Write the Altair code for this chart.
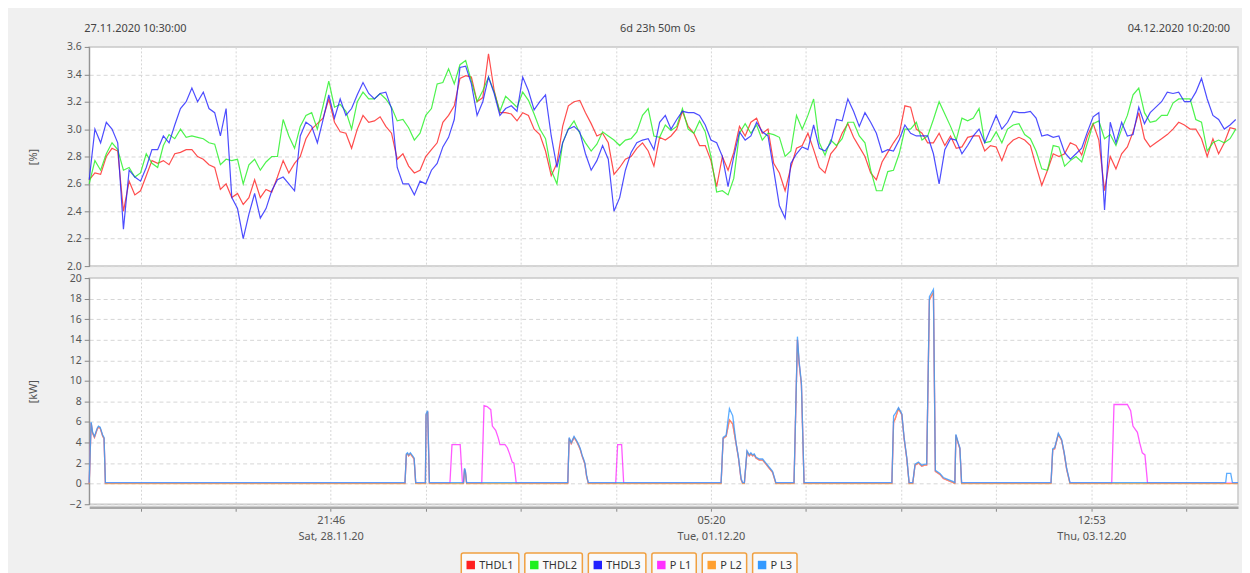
import altair as alt
import pandas as pd
from datetime import datetime, timedelta, timezone

# ---------------- time frame ----------------
START = datetime(2020, 11, 27, 10, 30, tzinfo=timezone.utc)
END = datetime(2020, 12, 4, 10, 20, tzinfo=timezone.utc)
FIRST_TICK = datetime(2020, 11, 27, 18, 0, tzinfo=timezone.utc)
TICK_STEP_S = 50000
N_TICKS = 12

series_names = ["THDL1", "THDL2", "THDL3", "P L1", "P L2", "P L3"]
series_colors = ["#ff2020", "#20f020", "#2020ff", "#ff30ff", "#ffa030", "#3399ff"]

# ---------------- THD data (minutes after start, %) ----------------
thd_minutes = list(range(0, 10051, 50))

thd_l1 = [
    2.63, 2.68, 2.67, 2.80, 2.86, 2.84, 2.40, 2.62, 2.52, 2.55,
    2.66, 2.77, 2.75, 2.77, 2.74, 2.82, 2.83, 2.85, 2.85, 2.80,
    2.78, 2.74, 2.72, 2.56, 2.60, 2.50, 2.53, 2.45, 2.50, 2.63,
    2.50, 2.56, 2.54, 2.65, 2.77, 2.68, 2.75, 2.80, 2.93, 3.00,
    3.04, 3.08, 3.22, 3.05, 2.98, 2.97, 2.86, 3.00, 3.10, 3.05,
    3.06, 3.09, 3.02, 2.97, 2.78, 2.82, 2.73, 2.68, 2.70, 2.80,
    2.85, 2.90, 3.05, 3.10, 3.17, 3.37, 3.39, 3.38, 3.20, 3.23,
    3.55, 3.28, 3.12, 3.12, 3.11, 3.06, 3.12, 3.10, 3.00, 2.96,
    2.84, 2.66, 2.75, 3.02, 3.17, 3.20, 3.21, 3.12, 3.04, 2.95,
    2.97, 2.90, 2.67, 2.72, 2.78, 2.80, 2.86, 2.90, 2.84, 2.73,
    2.94, 2.92, 2.95, 3.00, 3.13, 3.02, 2.97, 2.88, 2.88, 2.77,
    2.58, 2.80, 2.70, 2.83, 3.02, 2.95, 3.05, 3.08, 2.97, 3.00,
    2.75, 2.68, 2.55, 2.72, 2.86, 2.88, 2.97, 2.85, 2.72, 2.68,
    2.82, 2.87, 2.97, 3.04, 2.94, 2.87, 2.80, 2.68, 2.63, 2.76,
    2.83, 2.90, 2.96, 3.17, 3.16, 3.00, 2.97, 2.90, 2.90, 2.97,
    2.88, 2.95, 2.86, 2.87, 2.94, 2.95, 2.95, 2.84, 2.88, 2.87,
    2.77, 2.88, 2.92, 2.94, 2.92, 2.88, 2.73, 2.59, 2.70, 2.82,
    2.80, 2.82, 2.90, 2.88, 2.81, 2.95, 3.04, 2.92, 2.55, 2.80,
    2.71, 2.82, 2.87, 2.98, 3.12, 2.93, 2.87, 2.90, 2.93, 2.96,
    3.00, 3.05, 3.03, 3.00, 3.00, 2.93, 2.80, 2.93, 2.82, 2.90,
    3.01, 3.00,
]

thd_l2 = [
    2.60, 2.77, 2.70, 2.82, 2.90, 2.85, 2.70, 2.72, 2.65, 2.68,
    2.82, 2.75, 2.72, 2.88, 2.96, 2.93, 3.00, 2.94, 2.95, 2.94,
    2.93, 2.90, 2.89, 2.74, 2.78, 2.77, 2.78, 2.60, 2.74, 2.78,
    2.70, 2.76, 2.80, 2.80, 3.07, 2.95, 2.86, 3.02, 3.10, 3.12,
    3.00, 3.17, 3.35, 3.16, 3.18, 3.13, 3.00, 3.20, 3.27, 3.22,
    3.22, 3.26, 3.22, 3.16, 3.06, 3.07, 3.01, 2.92, 2.97, 3.10,
    3.15, 3.33, 3.34, 3.44, 3.33, 3.47, 3.50, 3.35, 3.20, 3.28,
    3.38, 3.27, 3.13, 3.24, 3.20, 3.16, 3.27, 3.21, 3.11, 3.00,
    2.93, 2.70, 2.60, 2.90, 3.00, 3.06, 2.97, 2.90, 2.84, 2.89,
    2.98, 2.95, 2.92, 2.88, 2.92, 2.93, 2.98, 3.10, 3.15, 2.95,
    2.94, 3.03, 2.99, 3.02, 3.15, 3.00, 2.97, 3.06, 2.98, 2.80,
    2.54, 2.55, 2.52, 2.64, 2.97, 3.04, 2.97, 3.03, 2.92, 2.97,
    2.96, 2.94, 2.80, 2.84, 3.10, 3.00, 3.10, 3.22, 2.90, 2.81,
    2.92, 2.88, 2.93, 3.05, 3.05, 2.95, 2.90, 2.70, 2.55, 2.55,
    2.69, 2.70, 2.82, 3.00, 3.00, 3.05, 2.92, 2.95, 3.07, 3.20,
    3.11, 3.02, 2.92, 3.08, 3.06, 3.08, 3.15, 2.90, 2.91, 2.98,
    2.90, 3.00, 3.03, 3.04, 2.96, 2.93, 2.84, 2.71, 2.70, 2.88,
    2.87, 2.73, 2.77, 2.80, 2.76, 2.90, 3.04, 3.06, 2.93, 2.96,
    2.88, 3.00, 3.10, 3.25, 3.30, 3.12, 3.05, 3.06, 3.10, 3.10,
    3.19, 3.22, 3.22, 3.22, 3.07, 3.05, 2.84, 2.90, 2.92, 2.90,
    2.93, 3.00,
]

thd_l3 = [
    2.63, 3.00, 2.90, 3.05, 3.00, 2.90, 2.27, 2.70, 2.65, 2.62,
    2.72, 2.85, 2.85, 2.95, 2.90, 3.03, 3.15, 3.20, 3.30, 3.20,
    3.27, 3.15, 3.12, 2.95, 3.15, 2.50, 2.42, 2.20, 2.38, 2.53,
    2.35, 2.42, 2.55, 2.63, 2.65, 2.60, 2.55, 2.95, 3.05, 3.02,
    2.90, 3.07, 3.25, 3.08, 3.22, 3.10, 3.15, 3.25, 3.34, 3.26,
    3.22, 3.26, 3.27, 3.15, 2.72, 2.60, 2.60, 2.52, 2.62, 2.60,
    2.70, 2.75, 2.87, 2.94, 3.07, 3.45, 3.46, 3.33, 3.10, 3.20,
    3.38, 3.26, 3.10, 3.15, 3.17, 3.13, 3.38, 3.28, 3.14, 3.20,
    3.25, 2.95, 2.72, 2.90, 3.00, 3.02, 2.98, 2.82, 2.70, 2.77,
    2.88, 2.78, 2.40, 2.50, 2.70, 2.83, 2.90, 2.92, 2.93, 2.85,
    3.05, 3.10, 3.00, 3.07, 3.13, 3.12, 3.12, 3.10, 3.03, 2.92,
    2.90, 2.80, 2.58, 2.80, 2.98, 2.92, 2.95, 3.05, 2.98, 2.95,
    2.70, 2.44, 2.35, 2.75, 2.82, 2.87, 2.85, 3.03, 2.86, 2.84,
    2.90, 3.07, 3.06, 3.22, 3.13, 3.02, 3.12, 3.05, 2.97, 2.83,
    2.85, 2.84, 2.92, 3.03, 2.97, 2.95, 2.95, 2.95, 2.82, 2.60,
    2.85, 2.93, 2.92, 2.82, 2.88, 2.95, 3.00, 2.90, 3.00, 3.10,
    3.00, 3.05, 3.13, 3.12, 3.12, 3.13, 3.08, 2.95, 2.96, 2.94,
    2.95, 2.83, 2.78, 2.82, 2.86, 2.98, 3.09, 3.12, 2.41, 3.05,
    2.90, 3.05, 2.95, 2.96, 3.16, 3.04, 3.12, 3.16, 3.20, 3.27,
    3.26, 3.27, 3.20, 3.20, 3.27, 3.37, 3.22, 3.10, 3.07, 3.00,
    3.03, 3.07,
]

# ---------------- power data (minutes after start, kW) ----------------
p_l1 = [
    (0, 0.05), (17, 5.9), (30, 4.9), (46, 4.5), (70, 5.3), (81, 5.5), (96, 5.4), (119, 4.6), (130, 4.4), (142, 0.05),
    (2768, 0.05), (2780, 2.8), (2790, 2.9), (2800, 2.7), (2815, 2.9), (2835, 2.6), (2848, 2.4), (2862, 0.05),
    (2947, 0.05), (2953, 6.7), (2967, 7.0), (2982, 0.05),
    (3162, 0.05), (3180, 3.8), (3252, 3.8), (3272, 0.05),
    (3281, 0.05), (3290, 1.4), (3298, 1.1), (3308, 0.05),
    (3441, 0.05), (3461, 7.6), (3488, 7.5), (3520, 7.2), (3534, 5.6), (3563, 5.2), (3584, 4.5), (3601, 3.8),
    (3645, 3.8), (3665, 3.5), (3685, 2.9), (3708, 2.1), (3723, 2.0), (3743, 0.05),
    (4195, 0.05), (4207, 4.4), (4225, 3.9), (4250, 4.5), (4272, 4.1), (4290, 3.7), (4305, 3.3), (4320, 2.7),
    (4333, 2.3), (4345, 1.9), (4360, 0.7), (4375, 0.05),
    (4615, 0.05), (4632, 3.8), (4667, 3.8), (4685, 0.05),
    (5539, 0.05), (5557, 4.4), (5583, 4.6), (5612, 6.2), (5641, 5.8), (5670, 3.9), (5691, 2.5), (5714, 0.4), (5728, 0.05),
    (5743, 0.05), (5766, 3.1), (5786, 2.7), (5800, 2.9), (5815, 2.7), (5830, 2.8), (5844, 2.5), (5874, 2.3),
    (5903, 2.3), (5932, 1.9), (5961, 1.5), (5990, 1.1), (6019, 0.05),
    (6178, 0.05), (6208, 14.0), (6222, 11.8), (6243, 9.6), (6266, 0.05),
    (7036, 0.05), (7051, 6.0), (7065, 6.3), (7094, 7.3), (7123, 6.7), (7143, 4.4), (7167, 2.4), (7187, 0.05),
    (7219, 0.05), (7239, 1.8), (7269, 2.0), (7298, 1.7), (7324, 1.8), (7341, 1.8), (7365, 17.9), (7385, 18.3),
    (7400, 18.6), (7417, 1.2), (7457, 0.9), (7487, 0.5), (7531, 0.3), (7574, 0.1), (7583, 0.05),
    (7588, 0.05), (7597, 4.7), (7618, 3.9), (7632, 3.4), (7647, 0.05),
    (8431, 0.05), (8446, 3.3), (8463, 3.4), (8495, 4.8), (8524, 4.2), (8547, 2.9), (8568, 1.4), (8597, 0.05),
    (8963, 0.05), (8983, 7.7), (9100, 7.7), (9129, 7.1), (9149, 5.6), (9188, 5.0), (9208, 4.0), (9231, 3.0),
    (9254, 2.8), (9277, 0.05),
    (10070, 0.05),
]

p_l2 = [
    (0, 0.0), (17, 5.9), (30, 4.9), (46, 4.5), (70, 5.3), (81, 5.5), (96, 5.4), (119, 4.6), (130, 4.4), (142, 0.0),
    (2768, 0.0), (2780, 2.8), (2790, 2.9), (2800, 2.7), (2815, 2.9), (2835, 2.6), (2848, 2.4), (2862, 0.0),
    (2947, 0.0), (2953, 6.7), (2967, 7.0), (2982, 0.0),
    (3281, 0.0), (3290, 1.4), (3298, 1.1), (3308, 0.0),
    (4195, 0.0), (4207, 4.4), (4225, 3.9), (4250, 4.5), (4272, 4.1), (4290, 3.7), (4305, 3.3), (4320, 2.7),
    (4333, 2.3), (4345, 1.9), (4360, 0.7), (4375, 0.0),
    (5539, 0.0), (5557, 4.4), (5583, 4.6), (5612, 6.2), (5641, 5.8), (5670, 3.9), (5691, 2.5), (5714, 0.4), (5728, 0.0),
    (5743, 0.0), (5766, 3.1), (5786, 2.7), (5800, 2.9), (5815, 2.7), (5830, 2.8), (5844, 2.5), (5874, 2.3),
    (5903, 2.3), (5932, 1.9), (5961, 1.5), (5990, 1.1), (6019, 0.0),
    (6178, 0.0), (6208, 14.0), (6222, 11.8), (6243, 9.6), (6266, 0.0),
    (7036, 0.0), (7051, 6.0), (7065, 6.3), (7094, 7.3), (7123, 6.7), (7143, 4.4), (7167, 2.4), (7187, 0.0),
    (7219, 0.0), (7239, 1.8), (7269, 2.0), (7298, 1.7), (7324, 1.8), (7341, 1.8), (7365, 17.9), (7385, 18.3),
    (7400, 18.6), (7417, 1.2), (7457, 0.9), (7487, 0.5), (7531, 0.3), (7574, 0.1), (7583, 0.0),
    (7588, 0.0), (7597, 4.7), (7618, 3.9), (7632, 3.4), (7647, 0.0),
    (8431, 0.0), (8446, 3.3), (8463, 3.4), (8495, 4.8), (8524, 4.2), (8547, 2.9), (8568, 1.4), (8597, 0.0),
    (10070, 0.0),
]

p_l3 = [
    (0, 0.1), (17, 6.0), (30, 5.0), (46, 4.6), (70, 5.4), (81, 5.6), (96, 5.5), (119, 4.7), (130, 4.5), (142, 0.1),
    (2768, 0.1), (2780, 2.9), (2790, 3.0), (2800, 2.8), (2815, 3.0), (2835, 2.7), (2848, 2.5), (2862, 0.1),
    (2947, 0.1), (2953, 6.8), (2967, 7.1), (2982, 0.1),
    (3281, 0.1), (3290, 1.5), (3298, 1.2), (3308, 0.1),
    (4195, 0.1), (4207, 4.5), (4225, 4.0), (4250, 4.6), (4272, 4.2), (4290, 3.8), (4305, 3.4), (4320, 2.8),
    (4333, 2.4), (4345, 2.0), (4360, 0.8), (4375, 0.1),
    (5539, 0.1), (5557, 4.5), (5583, 4.7), (5612, 7.3), (5641, 6.6), (5670, 4.0), (5691, 2.6), (5714, 0.5), (5728, 0.1),
    (5743, 0.1), (5766, 3.2), (5786, 2.8), (5800, 3.0), (5815, 2.8), (5830, 2.9), (5844, 2.6), (5874, 2.4),
    (5903, 2.4), (5932, 2.0), (5961, 1.6), (5990, 1.2), (6019, 0.1),
    (6178, 0.1), (6208, 14.3), (6222, 12.0), (6243, 9.8), (6266, 0.1),
    (7036, 0.1), (7051, 6.6), (7065, 6.8), (7094, 7.4), (7123, 6.8), (7143, 4.5), (7167, 2.5), (7187, 0.1),
    (7219, 0.1), (7239, 1.9), (7269, 2.1), (7298, 1.8), (7324, 1.9), (7341, 1.9), (7365, 18.2), (7385, 18.6),
    (7400, 18.9), (7417, 1.3), (7457, 1.0), (7487, 0.6), (7531, 0.4), (7574, 0.2), (7583, 0.1),
    (7588, 0.1), (7597, 4.8), (7618, 4.0), (7632, 3.5), (7647, 0.1),
    (8431, 0.1), (8446, 3.4), (8463, 3.5), (8495, 4.9), (8524, 4.3), (8547, 3.0), (8568, 1.5), (8597, 0.1),
    (9962, 0.1), (9971, 1.0), (10006, 1.0), (10021, 0.1), (10070, 0.1),
]

thd_ticks = [2.0, 2.2, 2.4, 2.6, 2.8, 3.0, 3.2, 3.4, 3.6]
kw_ticks = [-2, 0, 2, 4, 6, 8, 10, 12, 14, 16, 18, 20]


# ---------------- build tables ----------------
def ms(dt):
    return int(dt.timestamp() * 1000)


start_ms, end_ms = ms(START), ms(END)
minute_ms = 60000

rows = []
for name, vals in zip(series_names[:3], [thd_l1, thd_l2, thd_l3]):
    for m, v in zip(thd_minutes, vals):
        rows.append({"time": start_ms + m * minute_ms, "value": v, "series": name})
thd_df = pd.DataFrame(rows)

rows = []
for name, pts in zip(series_names[3:], [p_l1, p_l2, p_l3]):
    for m, v in pts:
        rows.append({"time": start_ms + m * minute_ms, "value": v, "series": name})
p_df = pd.DataFrame(rows)

tick_values = [ms(FIRST_TICK + timedelta(seconds=TICK_STEP_S * k)) for k in range(N_TICKS)]
label_anchor = tick_values[2]
label_period = 4 * TICK_STEP_S * 1000

dur = END - START
dur_label = f"{dur.days}d {dur.seconds // 3600}h {(dur.seconds % 3600) // 60}m {dur.seconds % 60}s"
header_df = pd.DataFrame({
    "label": [START.strftime("%d.%m.%Y %H:%M:%S"), dur_label, END.strftime("%d.%m.%Y %H:%M:%S")],
    "time": [start_ms, (start_ms + end_ms) // 2, end_ms],
})

# legend layout (widths estimated from glyph widths of the label text)
glyph_em = {"T": 0.61, "H": 0.74, "D": 0.71, "L": 0.53, "P": 0.60, " ": 0.26}
LEG_FONT = 11
W = 1153
H_TOP, H_BOT = 220, 227
box_w = [23 + LEG_FONT * sum(glyph_em.get(c, 0.57) for c in s) for s in series_names]
gap = 6
total = sum(box_w) + gap * (len(box_w) - 1)
x0 = 0.47 * W - total / 2
leg_rows = []
for s, w in zip(series_names, box_w):
    leg_rows.append({"label": s, "bx0": x0, "bx1": x0 + w, "sx": x0 + 9.5, "tx": x0 + 18})
    x0 += w + gap
leg_df = pd.DataFrame(leg_rows)

# ---------------- chart ----------------
FONT = "Noto Sans"
GRID = "#d6d6d6"
x_scale = alt.Scale(type="utc", domain=[start_ms, end_ms], nice=False)
color_scale = alt.Scale(domain=series_names, range=series_colors)


def y_axis(title, values, fmt, h):
    return alt.Axis(
        values=values, format=fmt, title=title, titleFontWeight="normal", titleFontSize=11,
        titleColor="#555", titleAngle=-90, titleX=-56, titleY=h / 2, titleBaseline="middle",
        titleAlign="center",
        labelFontSize=10.5, labelColor="#555", labelPadding=3, tickSize=5, tickColor="#888",
        domainColor="#888", grid=True, gridDash=[4, 3], gridColor=GRID,
    )


top_lines = alt.Chart(thd_df).mark_line(strokeWidth=1.2, opacity=0.8).encode(
    x=alt.X("time:T", scale=x_scale,
            axis=alt.Axis(values=tick_values, labels=False, ticks=False, domain=False, grid=True,
                          gridDash=[2, 2], gridColor=GRID, title=None)),
    y=alt.Y("value:Q", scale=alt.Scale(domain=[2.0, 3.6], nice=False, zero=False),
            axis=y_axis("[%]", thd_ticks, ".1f", H_TOP)),
    color=alt.Color("series:N", scale=color_scale, legend=None),
)

hdr_base = alt.Chart(header_df)
hdr_left = hdr_base.transform_filter(alt.datum.time == start_ms).mark_text(
    align="left", baseline="middle", dx=-5, fontSize=11, color="#444", font=FONT
).encode(x=alt.X("time:T", scale=x_scale, title=None), y=alt.value(-18), text="label:N")
hdr_mid = hdr_base.transform_filter(alt.datum.time == (start_ms + end_ms) // 2).mark_text(
    align="center", baseline="middle", dx=-6, fontSize=11, color="#444", font=FONT
).encode(x=alt.X("time:T", scale=x_scale, title=None), y=alt.value(-18), text="label:N")
hdr_right = hdr_base.transform_filter(alt.datum.time == end_ms).mark_text(
    align="right", baseline="middle", dx=-8, fontSize=11, color="#444", font=FONT
).encode(x=alt.X("time:T", scale=x_scale, title=None), y=alt.value(-18), text="label:N")

top = alt.layer(top_lines, hdr_left, hdr_mid, hdr_right).properties(width=W, height=H_TOP)

label_expr = (
    f"((datum.value - {label_anchor}) % {label_period}) == 0 ? "
    "[utcFormat(datum.value, '%H:%M'), utcFormat(datum.value, '%a, %d.%m.%y')] : ''"
)

bot_lines = alt.Chart(p_df).mark_line(strokeWidth=1.3, opacity=0.8).encode(
    x=alt.X("time:T", scale=x_scale,
            axis=alt.Axis(values=tick_values, labelExpr=label_expr, title=None, offset=3,
                          domainWidth=2.5, domainColor="#a8a8a8", tickSize=4, tickColor="#888",
                          labelFontSize=11, labelLineHeight=16, labelColor="#555", labelPadding=3,
                          labelOverlap=False, labelBound=False, labelFlush=False,
                          grid=True, gridDash=[2, 2], gridColor=GRID)),
    y=alt.Y("value:Q", scale=alt.Scale(domain=[-2, 20], nice=False),
            axis=y_axis("[kW]", kw_ticks, "d", H_BOT)),
    color=alt.Color("series:N", scale=color_scale, legend=None),
)

leg_base = alt.Chart(leg_df)
leg_box = leg_base.mark_rect(fill="#fafafa", stroke="#f0a040", strokeWidth=1.5, cornerRadius=2).encode(
    x=alt.X("bx0:Q", scale=None, axis=None), x2="bx1:Q",
    y=alt.value(H_BOT + 49), y2=alt.value(H_BOT + 73),
)
leg_sq = leg_base.mark_square(size=72, opacity=1).encode(
    x=alt.X("sx:Q", scale=None, axis=None), y=alt.value(H_BOT + 61),
    color=alt.Color("label:N", scale=color_scale, legend=None),
)
leg_txt = leg_base.mark_text(align="left", baseline="middle", fontSize=LEG_FONT, color="#333", font=FONT).encode(
    x=alt.X("tx:Q", scale=None, axis=None), y=alt.value(H_BOT + 61.5), text="label:N",
)

bottom = alt.layer(bot_lines, leg_box, leg_sq, leg_txt).resolve_scale(x="independent").properties(
    width=W, height=H_BOT)

chart = alt.vconcat(top, bottom, spacing=12, bounds="flush").properties(
    padding={"left": 18.5, "top": 13, "right": 0, "bottom": 4},
    background="#f0f0f0",
).configure(font=FONT).configure_view(stroke="#c8c8c8", strokeWidth=1.5, fill="white")

chart.save("out.html", embed_options={"renderer": "svg", "actions": False})
